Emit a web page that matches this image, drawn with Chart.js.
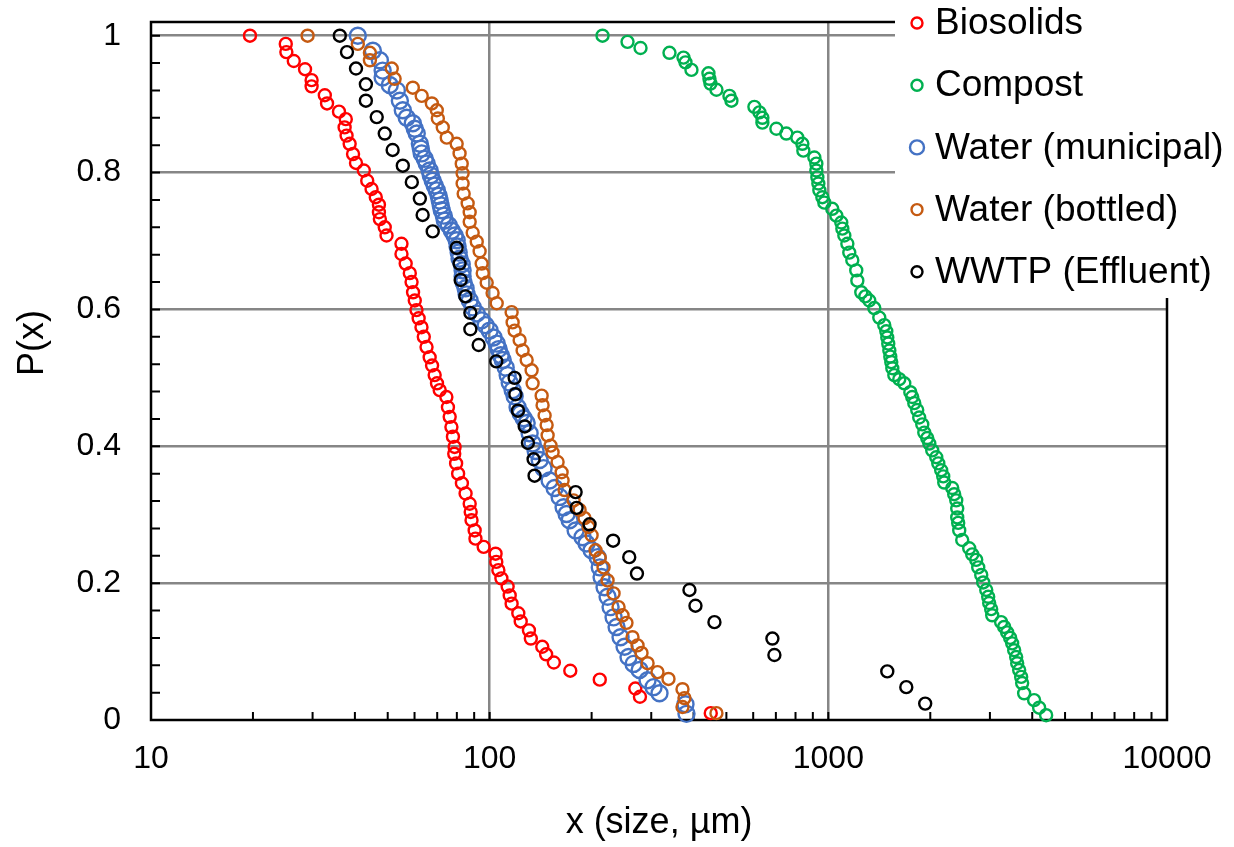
<!DOCTYPE html>
<html>
<head>
<meta charset="utf-8">
<title>P(x) vs particle size</title>
<script src="https://cdn.jsdelivr.net/npm/chart.js@4.4.0/dist/chart.umd.min.js"></script>
<style>
  html, body { margin: 0; padding: 0; background: #fff; }
  #wrap { width: 1234px; height: 847px; position: relative; }
</style>
</head>
<body>
<div id="wrap"><canvas id="chart" width="1234" height="847"></canvas></div>
<script>
/* ------------------------------
   Data
   ------------------------------ */
const bioX = [19.6,25.0,25.1,26.4,28.5,29.8,29.8,32.6,33.1,35.9,37.6,37.3,37.8,38.6,39.5,40.3,42.5,43.5,44.8,46.1,
  47.1,47.1,47.4,49.0,49.6,54.9,54.9,56.5,58.1,58.8,59.4,60.1,60.8,61.7,62.9,63.9,65.1,66.5,67.6,68.8,
  69.9,71.2,74.5,75.3,76.2,77.1,77.9,78.8,78.6,79.6,80.7,82.8,84.9,87.3,87.9,88.4,90.3,90.8,96.0,104.1,
  104.6,106.1,108.3,113.0,114.6,116.1,121.5,123.5,130.6,132.3,143.0,146.8,154.7,173.0,211.4,269.2,277.8,449.6];
const bioP = [1.000,0.988,0.976,0.963,0.951,0.935,0.926,0.913,0.901,0.889,0.878,0.866,0.854,0.842,0.827,0.814,0.803,0.788,0.776,0.764,
  0.753,0.742,0.732,0.720,0.708,0.696,0.681,0.667,0.653,0.640,0.625,0.613,0.599,0.587,0.574,0.560,0.545,0.530,0.518,0.504,
  0.492,0.482,0.472,0.457,0.443,0.428,0.414,0.399,0.389,0.375,0.360,0.346,0.331,0.316,0.304,0.292,0.277,0.265,0.253,0.243,
  0.231,0.219,0.207,0.195,0.182,0.170,0.156,0.144,0.131,0.119,0.107,0.096,0.084,0.072,0.059,0.046,0.034,0.010];

const compX = [215.4,255.3,278.9,339.6,373.5,378.6,394.3,442.6,445.6,448.7,467.3,510.5,517.5,604.9,625.8,638.7,638.7,702.4,751.6,810.1,
  838.1,843.8,909.4,921.8,921.8,928.1,934.4,940.8,960.1,973.2,1027,1056,1092,1100,1115,1138,1153,1177,1209,1218,
  1251,1286,1321,1367,1414,1463,1483,1493,1503,1514,1524,1534,1545,1566,1620,1676,1746,1769,1794,1830,
  1855,1894,1920,1959,1987,2027,2083,2112,2154,2184,2199,2322,2353,2386,2402,2402,2418,2435,2485,2606,
  2660,2733,2771,2828,2866,2926,2965,2985,3026,3047,3238,3305,3373,3443,3490,3538,3586,3611,3660,3710,
  3735,3786,4052,4192,4397];
const compP = [1.000,0.991,0.982,0.975,0.968,0.961,0.950,0.945,0.937,0.930,0.921,0.912,0.905,0.896,0.888,0.880,0.873,0.864,0.857,0.851,
  0.842,0.832,0.822,0.813,0.803,0.793,0.784,0.774,0.764,0.756,0.747,0.737,0.727,0.718,0.708,0.696,0.683,0.672,0.657,0.642,
  0.625,0.619,0.613,0.602,0.588,0.577,0.568,0.559,0.550,0.540,0.531,0.523,0.514,0.504,0.498,0.492,0.479,0.472,0.463,0.453,
  0.442,0.432,0.420,0.412,0.404,0.394,0.384,0.375,0.365,0.356,0.347,0.339,0.330,0.321,0.309,0.296,0.288,0.277,0.263,0.251,
  0.242,0.234,0.223,0.212,0.201,0.190,0.180,0.171,0.162,0.153,0.143,0.136,0.128,0.120,0.112,0.102,0.092,0.083,0.073,0.063,
  0.054,0.039,0.029,0.018,0.007];

const munX = [40.8,45.2,47.4,48.3,48.3,50.7,53.2,54.3,55.4,56.9,59.3,60.1,60.9,62.2,62.6,63.0,64.3,65.2,66.5,67.0,
  67.9,68.8,69.8,70.7,71.2,71.7,72.2,73.2,73.7,75.7,77.3,78.8,79.9,80.4,81.0,81.5,82.7,83.2,83.2,83.8,
  84.9,85.5,87.3,89.1,91.6,94.7,97.3,100.0,102.7,104.9,106.3,107.8,109.3,111.5,113.0,114.6,116.9,118.5,120.9,123.5,
  126.0,128.6,131.2,133.9,136.7,140.5,144.3,150.3,155.5,160.9,165.3,168.7,172.2,179.4,188.0,193.2,200.0,208.3,211.4,214.0,
  218.4,222.9,227.5,232.2,237.0,243.5,250.2,257.0,266.0,277.1,292.6,304.7,317.3,378.6,381.2];
const munP = [1.000,0.978,0.964,0.949,0.939,0.928,0.920,0.905,0.891,0.880,0.872,0.864,0.857,0.842,0.835,0.828,0.820,0.813,0.803,0.796,
  0.788,0.781,0.774,0.766,0.759,0.752,0.745,0.737,0.730,0.723,0.715,0.708,0.701,0.692,0.683,0.674,0.666,0.657,0.648,0.639,
  0.631,0.622,0.613,0.603,0.594,0.584,0.577,0.569,0.559,0.550,0.542,0.533,0.526,0.515,0.504,0.493,0.482,0.473,0.457,0.448,
  0.441,0.434,0.419,0.404,0.393,0.380,0.368,0.350,0.339,0.326,0.311,0.301,0.292,0.277,0.267,0.258,0.248,0.238,0.223,0.209,
  0.194,0.180,0.165,0.150,0.136,0.121,0.107,0.092,0.082,0.073,0.058,0.048,0.039,0.023,0.009];

const botX = [29.0,40.8,44.3,44.3,51.4,52.4,59.3,63.0,67.5,69.8,70.3,72.7,74.7,79.9,81.5,82.7,83.2,83.2,83.8,86.1,
  87.3,87.3,89.1,91.6,93.4,94.7,95.4,98.0,102.0,104.9,116.1,116.9,118.5,122.6,125.1,128.6,133.0,133.9,142.4,143.3,
  145.3,147.3,148.3,151.3,153.4,158.7,163.1,164.2,166.4,176.9,184.3,190.6,195.9,200.0,205.4,211.4,216.9,222.9,232.2,240.2,
  246.8,253.5,264.1,273.3,280.8,292.6,313.0,337.3,371.0,376.0,371.0,467.3];
const botP = [1.000,0.988,0.975,0.964,0.952,0.937,0.924,0.912,0.901,0.891,0.879,0.866,0.851,0.842,0.828,0.813,0.799,0.784,0.769,0.755,
  0.742,0.728,0.712,0.699,0.685,0.667,0.653,0.639,0.624,0.609,0.596,0.581,0.569,0.555,0.540,0.526,0.511,0.492,0.474,0.460,
  0.445,0.431,0.416,0.401,0.391,0.377,0.362,0.350,0.336,0.321,0.307,0.295,0.282,0.270,0.248,0.237,0.223,0.204,0.185,0.165,
  0.153,0.142,0.121,0.109,0.098,0.083,0.070,0.060,0.045,0.032,0.019,0.010];

const wwtpX = [36.1,37.9,40.3,43.1,43.1,46.4,49.0,51.7,55.4,58.9,62.2,63.4,67.9,79.9,81.5,82.1,84.8,87.7,87.7,92.8,
  104.6,118.5,119.1,121.2,126.9,129.7,134.8,135.7,179.4,180.6,197.2,231.5,258.3,272.2,389.0,405.2,461.0,683.7,693.0,1493,
  1699,1932];
const wwtpP = [1.000,0.976,0.952,0.929,0.905,0.881,0.857,0.833,0.810,0.786,0.762,0.738,0.714,0.690,0.667,0.643,0.619,0.595,0.571,0.548,
  0.524,0.500,0.476,0.452,0.429,0.405,0.381,0.357,0.333,0.310,0.286,0.262,0.238,0.214,0.190,0.167,0.143,0.119,0.095,0.071,
  0.048,0.024];

/* Axis ticks */
const xMajor = [10, 100, 1000, 10000];
const yMajor = [0, 0.2, 0.4, 0.6, 0.8, 1];
const yMinorStep = 0.04;

const FONT = "'Liberation Sans', Arial, sans-serif";

const series = [
  { label: "Biosolids",         xs: bioX,  ps: bioP,  color: "#FF0000", r: 6, lr: 5.5, order: 5 },
  { label: "Compost",           xs: compX, ps: compP, color: "#00B050", r: 6, lr: 5.5, order: 4 },
  { label: "Water (municipal)", xs: munX,  ps: munP,  color: "#4472C4", r: 8, lr: 7,   order: 3 },
  { label: "Water (bottled)",   xs: botX,  ps: botP,  color: "#C55A11", r: 6, lr: 5.5, order: 2 },
  { label: "WWTP (Effluent)",   xs: wwtpX, ps: wwtpP, color: "#000000", r: 6, lr: 5.5, order: 1 }
];

/* Frame, inward ticks, legend box and y title */
const decor = {
  id: 'decor',
  beforeDatasetsDraw(chart) {
    const { ctx, chartArea: a, scales: { x, y } } = chart;
    ctx.save();
    ctx.strokeStyle = '#000';
    ctx.lineWidth = 2.5;
    ctx.strokeRect(a.left, a.top, a.right - a.left, a.bottom - a.top);
    ctx.lineWidth = 2;
    ctx.beginPath();
    for (let v = 0; v <= 1.0001; v += yMinorStep) {
      const py = y.getPixelForValue(v);
      ctx.moveTo(a.left, py); ctx.lineTo(a.left + 9, py);
    }
    for (let d = 10; d < 10000; d *= 10) {
      for (let k = 1; k <= 10; k++) {
        const px = x.getPixelForValue(d * k);
        ctx.moveTo(px, a.bottom); ctx.lineTo(px, a.bottom - 8);
      }
    }
    ctx.stroke();
    ctx.restore();
  },
  afterDraw(chart) {
    const { ctx } = chart;
    ctx.save();
    // legend
    ctx.fillStyle = '#fff';
    ctx.fillRect(895, 0, 339, 298);
    ctx.font = `37px ${FONT}`;
    ctx.textAlign = 'left';
    ctx.textBaseline = 'middle';
    series.forEach((s, i) => {
      const cy = 23 + i * 62.2;
      ctx.beginPath();
      ctx.arc(917, cy, s.lr, 0, Math.PI * 2);
      ctx.strokeStyle = s.color;
      ctx.lineWidth = 2.4;
      ctx.stroke();
      ctx.fillStyle = '#000';
      ctx.fillText(s.label, 935, cy + 1);
    });
    // y title
    ctx.font = `36px ${FONT}`;
    ctx.translate(33, 343);
    ctx.rotate(-Math.PI / 2);
    ctx.textAlign = 'center';
    ctx.fillText('P(x)', 0, 0);
    ctx.restore();
  }
};

const gridColor = (edges) => (c) => (c.tick && edges.includes(c.tick.value)) ? 'rgba(0,0,0,0)' : '#868686';

new Chart(document.getElementById('chart'), {
  type: 'scatter',
  data: {
    datasets: series.map(s => ({
      label: s.label,
      data: s.xs.map((v, i) => ({ x: v, y: s.ps[i] })),
      showLine: false,
      pointStyle: 'circle',
      pointRadius: s.r,
      pointHoverRadius: s.r,
      pointBorderWidth: 2.4,
      pointBorderColor: s.color,
      pointBackgroundColor: 'rgba(0,0,0,0)',
      borderColor: s.color,
      order: s.order,
      clip: false
    }))
  },
  options: {
    responsive: false,
    animation: false,
    layout: { padding: { top: 22, right: 67, left: 0, bottom: 0 } },
    plugins: { legend: { display: false }, tooltip: { enabled: false } },
    scales: {
      x: {
        type: 'logarithmic',
        min: 10, max: 10000,
        afterBuildTicks: s => { s.ticks = xMajor.map(v => ({ value: v })); },
        afterFit: s => { s.height = 127; s.paddingLeft = 0; s.paddingRight = 0; },
        grid: { color: gridColor([10, 10000]), lineWidth: 2.5, drawTicks: false },
        border: { display: false },
        ticks: {
          padding: 20, color: '#000', autoSkip: false, maxRotation: 0,
          font: { size: 32, family: FONT },
          callback: v => String(v)
        },
        title: {
          display: true, text: 'x (size, µm)', color: '#000',
          font: { size: 36, family: FONT }, padding: { top: 0, bottom: 2 }
        }
      },
      y: {
        min: 0, max: 1.02,
        afterBuildTicks: s => { s.ticks = yMajor.map(v => ({ value: v })); },
        afterFit: s => { s.width = 151; s.paddingTop = 0; s.paddingBottom = 0; },
        grid: { color: gridColor([0]), lineWidth: 2.5, drawTicks: false },
        border: { display: false },
        ticks: {
          padding: 30, color: '#000',
          font: { size: 32, family: FONT },
          callback: v => String(v)
        }
      }
    }
  },
  plugins: [decor]
});
</script>
</body>
</html>
